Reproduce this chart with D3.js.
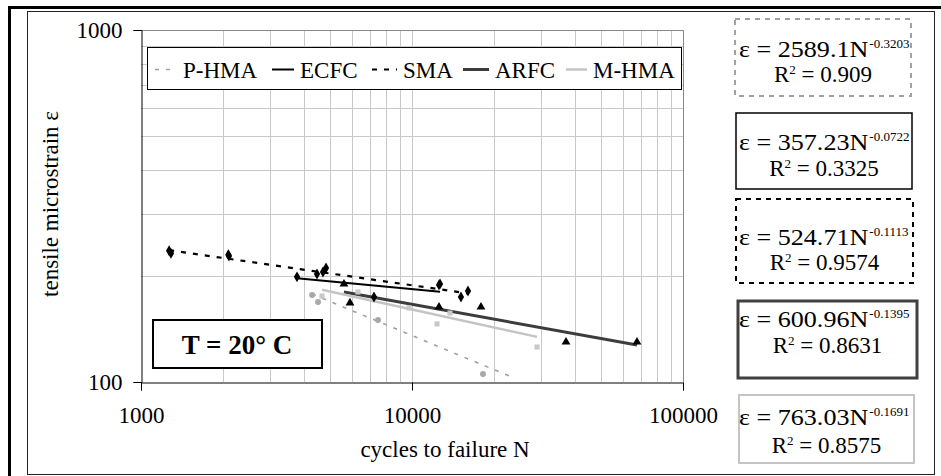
<!DOCTYPE html>
<html>
<head>
<meta charset="utf-8">
<script src="https://cdn.jsdelivr.net/npm/d3@7"></script>
<style>
  body { margin: 0; background: #fff; }
  svg { display: block; font-family: "Liberation Serif", "Times New Roman", serif; }
</style>
</head>
<body>
<svg id="chart" width="941" height="476"></svg>
<script>
// ---- data ----
const seriesNames = ["P-HMA", "ECFC", "SMA", "ARFC", "M-HMA"];

const pHmaN = [4280, 4500, 7490, 18280, 23590];
const pHmaStrain = [176.6, 168.8, 150, 105.4, 97];

const ecfcN = [3764, 7240, 12690];
const ecfcStrain = [199, 174.4, 190];

const smaN = [1270, 1290, 2100, 2112, 4461, 4694, 4816, 12580, 15160, 16090];
const smaStrain = [236, 232, 230, 228, 202.7, 205.4, 210.8, 188.7, 174.4, 181.4];

const arfcN = [5610, 5904, 12580, 17970, 37010, 67640];
const arfcStrain = [189.8, 167.7, 163.3, 163.3, 129.9, 129.9];

const mHmaN = [4655, 6320, 9750, 12370, 13810, 28930];
const mHmaStrain = [175.5, 180.2, 162.3, 146.2, 157, 125.7];

// power-law trendlines shown in the boxes: eps = a * N^b
const fitCoef = ["2589.1", "357.23", "524.71", "600.96", "763.03"];
const fitExp = ["-0.3203", "-0.0722", "-0.1113", "-0.1395", "-0.1691"];
const fitR2 = ["0.909", "0.3325", "0.9574", "0.8631", "0.8575"];

const xTicks = [1000, 10000, 100000];
const yTicks = [100, 1000];

// ---- styles and layout ----
const FONT = 23;

const seriesStyle = {
  "P-HMA": { stroke: "#a0a0a0", width: 1.6, dash: "4,7", symbol: d3.symbolCircle, size: 28, fill: "#a8a8a8" },
  "ECFC": { stroke: "#000", width: 2, dash: null, symbol: d3.symbolDiamond, size: 34, fill: "#000" },
  "SMA": { stroke: "#000", width: 2.2, dash: "5,7", symbol: d3.symbolDiamond, size: 34, fill: "#000" },
  "ARFC": { stroke: "#3c3c3c", width: 3, dash: null, symbol: d3.symbolTriangle, size: 34, fill: "#000" },
  "M-HMA": { stroke: "#c4c4c4", width: 2.5, dash: null, symbol: d3.symbolSquare, size: 26, fill: "#c8c8c8" }
};

const boxLayout = [
  { x: 735, y: 19, w: 176, h: 77, l1: 38, l2: 63, stroke: "#a0a0a0", width: 2, dash: "5,5" },
  { x: 736, y: 113, w: 176, h: 76, l1: 37, l2: 63, stroke: "#000", width: 1.5, dash: null },
  { x: 736, y: 199, w: 177, h: 84, l1: 46, l2: 71, stroke: "#000", width: 2, dash: "5,5" },
  { x: 738, y: 301, w: 179, h: 77, l1: 26, l2: 52, stroke: "#404040", width: 3, dash: null },
  { x: 739, y: 395, w: 175, h: 68, l1: 30, l2: 58, stroke: "#c4c4c4", width: 2, dash: null }
];
const eqLeft = 739;
const eqStretch = 1.135;

const plot = { left: 141, right: 683, top: 30, bottom: 382 };

const svg = d3.select("#chart");

// outer frames
svg.append("path")
  .attr("d", "M9.5,476 L9.5,7.5 L941,7.5")
  .attr("fill", "none")
  .attr("stroke", "#000")
  .attr("stroke-width", 3);
svg.append("rect")
  .attr("x", 27.5).attr("y", 11.5)
  .attr("width", 907).attr("height", 463)
  .attr("fill", "none")
  .attr("stroke", "#222")
  .attr("stroke-width", 1);

const x = d3.scaleLog().domain([1000, 100000]).range([plot.left, plot.right]);
const y = d3.scaleLog().domain([100, 1000]).range([plot.bottom, plot.top]);

// gridlines
const grid = svg.append("g").attr("class", "grid");
const xGrid = d3.range(1, 3).flatMap(e => d3.range(2, 11).map(k => k * Math.pow(10, e + 2)));
const yGrid = d3.range(2, 10).map(k => k * 100);

grid.selectAll("line.v")
  .data(xGrid)
  .enter().append("line")
  .attr("class", "v")
  .attr("x1", d => Math.round(x(d)) + 0.5).attr("x2", d => Math.round(x(d)) + 0.5)
  .attr("y1", plot.top).attr("y2", plot.bottom)
  .attr("stroke", "#c8c8c8");

grid.selectAll("line.h")
  .data(yGrid)
  .enter().append("line")
  .attr("class", "h")
  .attr("x1", plot.left).attr("x2", plot.right)
  .attr("y1", d => Math.round(y(d)) + 0.5).attr("y2", d => Math.round(y(d)) + 0.5)
  .attr("stroke", "#c8c8c8");

// plot border top / right
svg.append("path")
  .attr("d", `M${plot.left},${plot.top + 0.5} L${plot.right + 0.5},${plot.top + 0.5} L${plot.right + 0.5},${plot.bottom}`)
  .attr("fill", "none")
  .attr("stroke", "#888");

// axes
const xAxis = d3.axisBottom(x).tickValues(xTicks).tickSize(8).tickFormat(d3.format("d"));
const yAxis = d3.axisLeft(y).tickValues(yTicks).tickSize(8).tickFormat(d3.format("d"));

const gx = svg.append("g").attr("transform", `translate(0,${plot.bottom + 0.5})`).call(xAxis);
const gy = svg.append("g").attr("transform", `translate(${plot.left + 0.5},0)`).call(yAxis);

[gx, gy].forEach(g => {
  g.select(".domain").attr("stroke", "#000");
  g.selectAll(".tick line").attr("stroke", "#000");
  g.selectAll(".tick text")
    .attr("font-family", "Liberation Serif, Times New Roman, serif")
    .attr("font-size", FONT)
    .attr("fill", "#000");
});
gx.selectAll(".tick text").attr("y", 24).attr("dy", "0.71em");
gy.selectAll(".tick text").attr("x", -19).attr("dy", "0.32em");

// axis titles
svg.append("text")
  .attr("x", 445).attr("y", 457)
  .attr("text-anchor", "middle")
  .attr("font-size", FONT)
  .text("cycles to failure N");

svg.append("text")
  .attr("transform", "translate(58,204) rotate(-90)")
  .attr("text-anchor", "middle")
  .attr("font-size", FONT)
  .text("tensile microstrain ε");

// series
const seriesData = [
  [pHmaN, pHmaStrain],
  [ecfcN, ecfcStrain],
  [smaN, smaStrain],
  [arfcN, arfcStrain],
  [mHmaN, mHmaStrain]
].map(([ns, es], i) => ({
  name: seriesNames[i],
  points: ns.map((n, j) => ({ n, e: es[j] })),
  a: +fitCoef[i],
  b: +fitExp[i]
}));

svg.append("clipPath").attr("id", "plot-clip")
  .append("rect")
  .attr("x", plot.left).attr("y", plot.top)
  .attr("width", plot.right - plot.left).attr("height", plot.bottom - plot.top);

const dataLayer = svg.append("g").attr("clip-path", "url(#plot-clip)");

const line = d3.line().x(d => x(d.n)).y(d => y(d.e));

// trendlines over the measured range of each series
seriesData.forEach(s => {
  const st = seriesStyle[s.name];
  const [nMin, nMax] = d3.extent(s.points, d => d.n);
  const trend = [nMin, nMax].map(n => ({ n, e: s.a * Math.pow(n, s.b) }));
  dataLayer.append("path")
    .datum(trend)
    .attr("d", line)
    .attr("fill", "none")
    .attr("stroke", st.stroke)
    .attr("stroke-width", st.width)
    .attr("stroke-dasharray", st.dash);
});

seriesData.forEach(s => {
  const st = seriesStyle[s.name];
  dataLayer.selectAll(null)
    .data(s.points)
    .enter().append("path")
    .attr("transform", d => `translate(${x(d.n)},${y(d.e)})`)
    .attr("d", d3.symbol().type(st.symbol).size(st.size))
    .attr("fill", st.fill);
});

// legend
const legendItems = [
  { lx: 155, tx: 183 },
  { lx: 272, tx: 300 },
  { lx: 372, tx: 403 },
  { lx: 463, tx: 495 },
  { lx: 566, tx: 593 }
];
const legend = svg.append("g");
legend.append("rect")
  .attr("x", 147.5).attr("y", 47.5)
  .attr("width", 534).attr("height", 42)
  .attr("fill", "#fff")
  .attr("stroke", "#000");

legend.selectAll("g.item")
  .data(seriesNames)
  .enter().append("g")
  .attr("class", "item")
  .each(function(name, i) {
    const g = d3.select(this);
    const st = seriesStyle[name];
    const pos = legendItems[i];
    g.append("line")
      .attr("x1", pos.lx).attr("x2", pos.tx - 6)
      .attr("y1", 69.5).attr("y2", 69.5)
      .attr("stroke", st.stroke)
      .attr("stroke-width", st.width)
      .attr("stroke-dasharray", st.dash);
    g.append("text")
      .attr("x", pos.tx).attr("y", 78)
      .attr("font-size", FONT)
      .text(name);
  });

// temperature label
const tBox = svg.append("g");
tBox.append("rect")
  .attr("x", 153).attr("y", 320)
  .attr("width", 169).attr("height", 48)
  .attr("fill", "#fff")
  .attr("stroke", "#000")
  .attr("stroke-width", 2);
tBox.append("text")
  .attr("x", 237).attr("y", 354)
  .attr("text-anchor", "middle")
  .attr("font-size", 27)
  .attr("font-weight", "bold")
  .text("T = 20° C");

// equation boxes
const eqBoxes = svg.append("g")
  .selectAll("g.eq")
  .data(seriesNames)
  .enter().append("g")
  .attr("class", "eq");

eqBoxes.each(function(name, i) {
  const g = d3.select(this);
  const b = boxLayout[i];
  g.append("rect")
    .attr("x", b.x).attr("y", b.y)
    .attr("width", b.w).attr("height", b.h)
    .attr("fill", "#fff")
    .attr("stroke", b.stroke)
    .attr("stroke-width", b.width)
    .attr("stroke-dasharray", b.dash);

  // "eps = aN" line, slightly widened like the original, exponent after it
  const eqLine = g.append("g")
    .attr("transform", `translate(${eqLeft},${b.y + b.l1})`);
  const main = eqLine.append("text")
    .attr("transform", `scale(${eqStretch},1)`)
    .attr("font-size", FONT)
    .text(`ε = ${fitCoef[i]}N`);
  const mainWidth = main.node().getComputedTextLength() * eqStretch;
  eqLine.append("text")
    .attr("x", mainWidth + 1)
    .attr("y", -9)
    .attr("font-size", 13)
    .text(fitExp[i]);

  const cx = b.x + b.w / 2;
  const t2 = g.append("text")
    .attr("x", cx).attr("y", b.y + b.l2)
    .attr("text-anchor", "middle")
    .attr("font-size", FONT);
  t2.append("tspan").text("R");
  t2.append("tspan").attr("dy", -8).attr("font-size", 13).text("2");
  t2.append("tspan").attr("dy", 8).text(` = ${fitR2[i]}`);
});
</script>
</body>
</html>
